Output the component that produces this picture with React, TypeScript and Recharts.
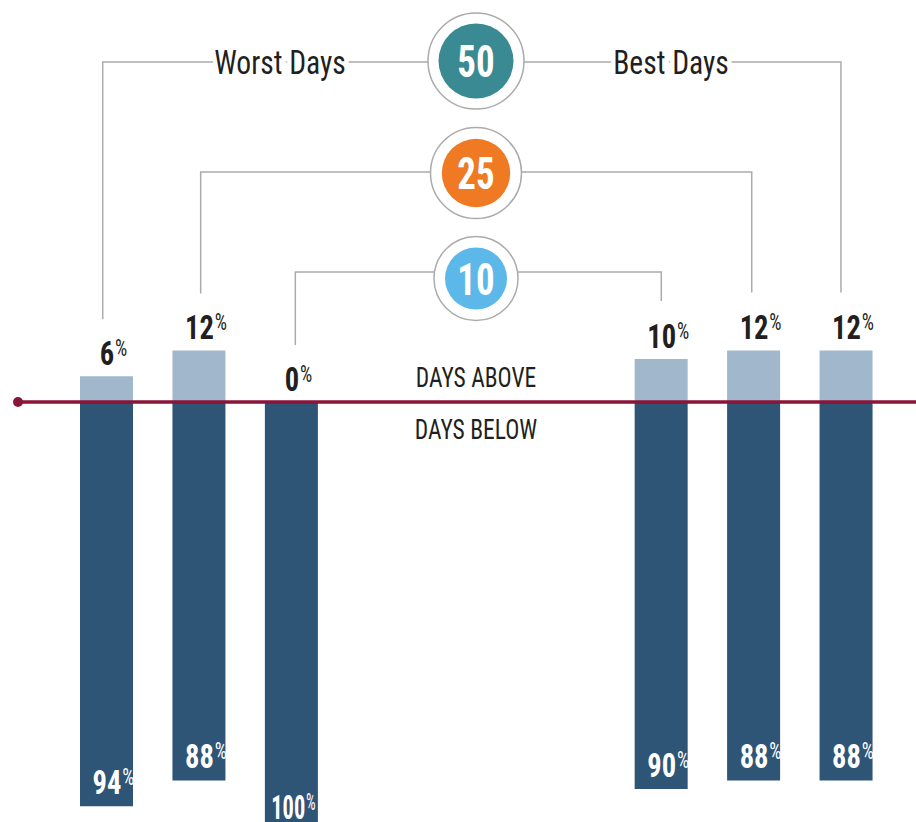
import React from 'react';
import { BarChart, Bar, XAxis, YAxis, LabelList } from 'recharts';

// slots 3-5 are left empty to open the gap between worst and best days
const categories = ['Worst 50', 'Worst 25', 'Worst 10', 'gap a', 'gap b', 'gap c', 'Best 10', 'Best 25', 'Best 50'];
const daysAbove = [6, 12, 0, null, null, null, 10, 12, 12];
const daysBelow = [94, 88, 100, null, null, null, 90, 88, 88];

const brackets = [
  { label: '50', color: '#3a8a94', from: 0, to: 8, lineY: 62, cy: 61, r: 48, ri: 37.5, fromDx: -3.5, toDx: -4.8 },
  { label: '25', color: '#f07a23', from: 1, to: 7, lineY: 172, cy: 173, r: 45.5, ri: 34.2, fromDx: 2, toDx: -1.6 },
  { label: '10', color: '#5bb8e8', from: 2, to: 6, lineY: 272, cy: 278.5, r: 42, ri: 31, fromDx: 4.2, toDx: 0.4 },
];

const W = 916;
const H = 822;
const CHART_H = 832;
const MARGIN = { top: 0, right: 24, bottom: 0, left: 60 };
const Y_MIN = -100;
const Y_MAX = 93.5;

const FONT = "'Roboto Condensed', 'Liberation Sans Narrow', 'DejaVu Sans Condensed', sans-serif";
const INK = '#231f20';
const LIGHT = '#a1b7cb';
const DARK = '#2e5476';
const MAROON = '#8a1538';
const GREY = '#ababab';

const band = (W - MARGIN.left - MARGIN.right) / categories.length;
const slotX = (i: number) => MARGIN.left + band * (i + 0.5);
const yOf = (v: number) => MARGIN.top + ((Y_MAX - v) / (Y_MAX - Y_MIN)) * (CHART_H - MARGIN.top - MARGIN.bottom);

const data = categories.map((c, i) => ({
  slot: c,
  above: daysAbove[i],
  below: daysBelow[i] == null ? null : -(daysBelow[i] as number),
}));

// squeezed text, the original uses a tall condensed face
function CText({ x, y, sx = 0.85, children, ...rest }: any) {
  return (
    <text transform={`translate(${x},${y}) scale(${sx},1)`} x={0} y={0} fontFamily={FONT} {...rest}>
      {children}
    </text>
  );
}

function Pct({ x, y, value, fill }: { x: number; y: number; value: number; fill: string }) {
  // three digits have to squeeze into the bar width
  const wide = value >= 100;
  return (
    <CText x={wide ? x - 5 : x} y={y} sx={wide ? 0.66 : 0.84} textAnchor="middle" fill={fill} fontWeight={700} fontSize={34}>
      {value}
      <tspan dx={1} dy={-9} fontSize={23} fontWeight={400}>%</tspan>
    </CText>
  );
}

const TopLabel = (props: any) => {
  const { x, y, width, value } = props;
  if (value == null) return null;
  return <Pct x={Number(x) + Number(width) / 2 + 7} y={Number(y) - 11} value={value} fill={INK} />;
};

const BottomLabel = (props: any) => {
  const { x, y, width, height, value, index } = props;
  if (value == null) return null;
  const top = Math.min(Number(y), Number(y) + Number(height));
  const bottom = Math.max(Number(y), Number(y) + Number(height));
  const cx = Number(x) + Number(width) / 2 + 7;
  return (
    <g>
      <Pct x={cx} y={Math.min(bottom - 12, H - 3)} value={Math.abs(value)} fill="#ffffff" />
      {/* a zero-height "above" bar gets no label of its own */}
      {daysAbove[index] === 0 && <Pct x={cx} y={top - 11} value={0} fill={INK} />}
    </g>
  );
};

function Overlay() {
  const y0 = yOf(0);
  const midX = slotX(4);
  return (
    <svg width={W} height={H} style={{ position: 'absolute', left: 0, top: 0, pointerEvents: 'none' }}>
      {brackets.map((b) => {
        const lx = slotX(b.from) + b.fromDx;
        const rx = slotX(b.to) + b.toDx;
        const lBottom = yOf(daysAbove[b.from] as number) - 57;
        const rBottom = yOf(daysAbove[b.to] as number) - 58;
        return (
          <g key={b.label}>
            <polyline
              points={`${lx},${lBottom} ${lx},${b.lineY} ${rx},${b.lineY} ${rx},${rBottom}`}
              fill="none"
              stroke={GREY}
              strokeWidth={1.5}
            />
            <circle cx={midX} cy={b.cy} r={b.r} fill="#fff" stroke={GREY} strokeWidth={1.5} />
            <circle cx={midX} cy={b.cy} r={b.ri} fill={b.color} />
            <CText x={midX} y={b.cy + 16} sx={0.82} textAnchor="middle" fill="#fff" fontWeight={700} fontSize={45}>
              {b.label}
            </CText>
          </g>
        );
      })}
      <g fill={INK} stroke="#fff" strokeWidth={10} paintOrder="stroke">
        <CText x={280} y={74} sx={0.87} textAnchor="middle" fontSize={34}>Worst Days</CText>
        <CText x={671} y={74} sx={0.87} textAnchor="middle" fontSize={34}>Best Days</CText>
      </g>
      <g fill={INK}>
        <CText x={midX} y={y0 - 15} sx={0.84} textAnchor="middle" fontSize={28}>DAYS ABOVE</CText>
        <CText x={midX} y={y0 + 37} sx={0.84} textAnchor="middle" fontSize={28}>DAYS BELOW</CText>
      </g>
      <line x1={18} x2={W} y1={y0} y2={y0} stroke={MAROON} strokeWidth={3.5} />
      <circle cx={18} cy={y0} r={5} fill={MAROON} />
    </svg>
  );
}

export default function App() {
  return (
    <div style={{ position: 'absolute', left: 0, top: 0, width: W, height: H, overflow: 'hidden', background: '#fff' }}>
      <BarChart width={W} height={CHART_H} data={data} margin={MARGIN} stackOffset="sign" barSize={53}>
        <XAxis dataKey="slot" hide />
        <YAxis hide domain={[Y_MIN, Y_MAX]} allowDataOverflow />
        <Bar dataKey="above" stackId="days" fill={LIGHT} isAnimationActive={false}>
          <LabelList dataKey="above" content={TopLabel} />
        </Bar>
        <Bar dataKey="below" stackId="days" fill={DARK} isAnimationActive={false}>
          <LabelList dataKey="below" content={BottomLabel} />
        </Bar>
      </BarChart>
      <Overlay />
    </div>
  );
}
